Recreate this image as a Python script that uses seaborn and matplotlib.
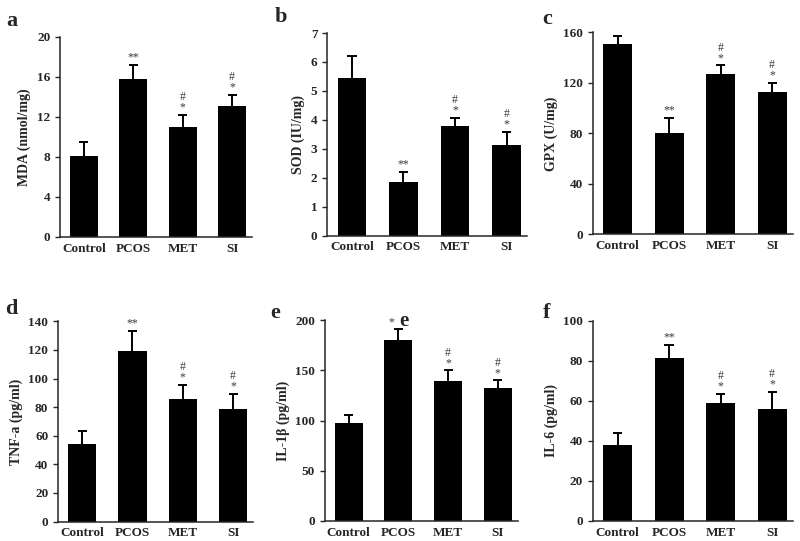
import numpy as np
import pandas as pd
import seaborn as sns
import matplotlib.pyplot as plt

groups = ["Control", "PCOS", "MET", "SI"]

mda = [8.1, 15.8, 11.0, 13.1]
mda_err = [1.4, 1.4, 1.2, 1.1]
sod = [5.45, 1.85, 3.8, 3.15]
sod_err = [0.75, 0.35, 0.27, 0.45]
gpx = [151, 80, 127, 113]
gpx_err = [6, 12, 7, 7]
tnf = [54, 119.5, 86, 78.5]
tnf_err = [9, 14, 9.5, 11]
il1b = [98, 180, 139, 133]
il1b_err = [8, 11, 11, 7]
il6 = [38, 81.5, 59, 56]
il6_err = [6, 6.5, 4.5, 8.5]

marks_a = ["", "**", "#\n*", "#\n*"]
marks_b = ["", "**", "#\n*", "#\n*"]
marks_c = ["", "**", "#\n*", "#\n*"]
marks_d = ["", "**", "#\n*", "#\n*"]
marks_e = ["", "", "#\n*", "#\n*"]
marks_f = ["", "**", "#\n*", "#\n*"]

sns.set_style("ticks")
plt.rcParams["font.family"] = ["Liberation Serif", "DejaVu Serif"]
plt.rcParams["font.weight"] = "bold"
plt.rcParams["axes.labelweight"] = "bold"

fig = plt.figure(figsize=(8, 5.41), dpi=100)

panels = [
    ("a", mda, mda_err, marks_a, "MDA (nmol/mg)", 20, 4, [0.075, 0.562, 0.240, 0.370], (0.008, 0.962)),
    ("b", sod, sod_err, marks_b, "SOD (IU/mg)", 7, 1, [0.409, 0.564, 0.250, 0.375], (0.343, 0.968)),
    ("c", gpx, gpx_err, marks_c, "GPX (U/mg)", 160, 40, [0.741, 0.567, 0.250, 0.373], (0.678, 0.965)),
    ("d", tnf, tnf_err, marks_d, "TNF-a (pg/ml)", 140, 20, [0.0725, 0.036, 0.244, 0.370], (0.006, 0.428)),
    ("e", il1b, il1b_err, marks_e, "IL-1β (pg/ml)", 200, 50, [0.406, 0.037, 0.241, 0.371], (0.338, 0.422)),
    ("f", il6, il6_err, marks_f, "IL-6 (pg/ml)", 100, 20, [0.741, 0.037, 0.250, 0.370], (0.678, 0.422)),
]

for letter, vals, errs, marks, ylab, ymax, step, rect, lpos in panels:
    ax = fig.add_axes(rect)
    df = pd.DataFrame({"group": groups, "value": vals})
    sns.barplot(data=df, x="group", y="value", color="black", width=0.56,
                errorbar=None, ax=ax, saturation=1, linewidth=0)
    x = np.arange(len(groups))
    tops = np.array(vals) + np.array(errs)
    # upper half of the error bar only
    ax.vlines(x, vals, tops, color="black", lw=1.4)
    ax.hlines(tops, x - 0.09, x + 0.09, color="black", lw=1.4)
    for xi, t, m in zip(x, tops, marks):
        if m:
            ax.annotate(m, (xi, t), xytext=(0, 1), textcoords="offset points",
                        ha="center", va="bottom", fontsize=8.5, color="#3a3a3a",
                        linespacing=0.8, fontweight="normal")
    if letter == "e":
        ax.annotate("*", (1, tops[1]), xytext=(-5, 1), textcoords="offset points",
                    ha="center", va="bottom", fontsize=8.5, color="#3a3a3a",
                    fontweight="normal")
        ax.annotate("e", (1, tops[1]), xytext=(4, -1), textcoords="offset points",
                    ha="center", va="bottom", fontsize=15, fontweight="bold")
    ax.set_ylim(0, ymax)
    ax.set_yticks(np.arange(0, ymax + step / 2, step))
    ax.set_xlim(-0.48, 3.4)
    ax.set_xlabel("")
    ax.set_ylabel(ylab, fontsize=10, fontweight="bold")
    ax.tick_params(axis="x", length=0, labelsize=9.5, pad=4)
    ax.tick_params(axis="y", length=3.5, width=1, labelsize=9.5)
    for lab in ax.get_xticklabels() + ax.get_yticklabels():
        lab.set_fontweight("bold")
    sns.despine(ax=ax)
    for s in ["left", "bottom"]:
        ax.spines[s].set_linewidth(1.1)
    fig.text(lpos[0], lpos[1], letter, fontsize=16, fontweight="bold", va="center")

fig.savefig("out.png", dpi=100)
